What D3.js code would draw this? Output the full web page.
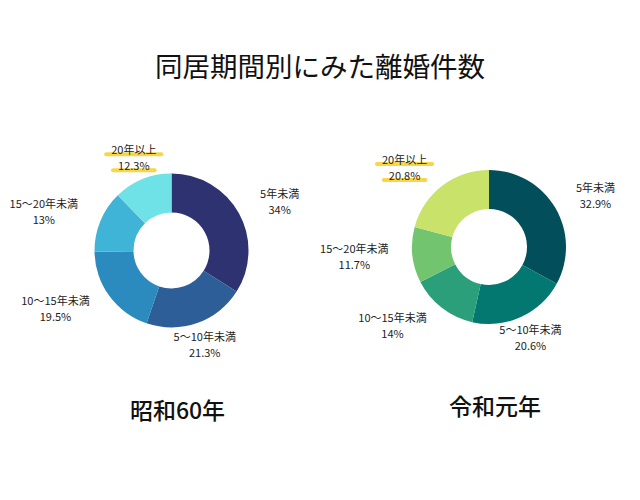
<!DOCTYPE html>
<html>
<head>
<meta charset="utf-8">
<script src="https://cdn.jsdelivr.net/npm/d3@7"></script>
<style>
  html, body { margin: 0; padding: 0; background: #fff; }
  svg { display: block; font-family: "Noto Sans CJK JP", "Noto Sans", sans-serif; }
</style>
</head>
<body>
<svg id="chart" width="640" height="500"></svg>
<script>
// ---- data ----
const titleText = "同居期間別にみた離婚件数";
const categories = ["5年未満", "5〜10年未満", "10〜15年未満", "15〜20年未満", "20年以上"];
const valuesShowa60 = [34, 21.3, 19.5, 13, 12.3];
const valuesReiwa1 = [32.9, 20.6, 14, 11.7, 20.8];
const colorsShowa60 = ["#2f3271", "#2d5e97", "#2b8bbf", "#3fb4d6", "#6ee2e6"];
const colorsReiwa1 = ["#024e5b", "#037871", "#2a9f79", "#73c46e", "#c9e269"];
const chartNames = ["昭和60年", "令和元年"];
const highlighted = ["20年以上"];

// ---- layout ----
const svg = d3.select("#chart");
const W = 640;
const outerR = 77, innerR = 38, labelR = 100;

svg.append("text")
  .attr("x", W / 2).attr("y", 77)
  .attr("text-anchor", "middle")
  .attr("font-size", 27.5).attr("font-weight", 400)
  .attr("fill", "#111")
  .text(titleText);

const charts = [
  { name: chartNames[0], values: valuesShowa60, colors: colorsShowa60, cx: 171.5, cy: 250.5 },
  { name: chartNames[1], values: valuesReiwa1, colors: colorsReiwa1, cx: 489, cy: 247 }
];

const pie = d3.pie().sort(null).value(d => d.value);
const arc = d3.arc().innerRadius(innerR).outerRadius(outerR);

charts.forEach(ch => {
  const data = categories.map((c, i) => ({ cat: c, value: ch.values[i] }));
  const color = d3.scaleOrdinal().domain(categories).range(ch.colors);
  const g = svg.append("g").attr("transform", `translate(${ch.cx},${ch.cy})`);
  const arcs = pie(data);

  g.selectAll("path.slice").data(arcs).join("path")
    .attr("class", "slice")
    .attr("d", arc)
    .attr("fill", d => color(d.data.cat));

  const hlLayer = g.append("g");
  const lblLayer = g.append("g");

  arcs.forEach(d => {
    const a = (d.startAngle + d.endAngle) / 2;
    const s = Math.sin(a), c = Math.cos(a);
    const ax = labelR * s, ay = -labelR * c;
    const lg = lblLayer.append("g");
    const t1 = lg.append("text").attr("text-anchor", "middle").attr("font-size", 11).attr("fill", "#222")
      .attr("x", 0).attr("y", -4).text(d.data.cat);
    const t2 = lg.append("text").attr("text-anchor", "middle").attr("font-size", 11).attr("fill", "#222")
      .attr("x", 0).attr("y", 12).text(d.data.value + "%");
    const w1 = t1.node().getComputedTextLength();
    const w2 = t2.node().getComputedTextLength();
    const w = Math.max(w1, w2);
    let bx = ax;
    if (s >= 0.5) bx = ax + w / 2 + 1;
    else if (s <= -0.5) bx = ax - w / 2 - 1;
    lg.attr("transform", `translate(${bx},${ay})`);

    if (highlighted.includes(d.data.cat)) {
      [[w1, -4 + 0.5], [w2, 12 + 0.5]].forEach(([tw, yy]) => {
        hlLayer.append("line")
          .attr("x1", bx - tw / 2 - 5).attr("x2", bx + tw / 2 + 5)
          .attr("y1", ay + yy).attr("y2", ay + yy)
          .attr("stroke", "#f7d64a").attr("stroke-width", 4)
          .attr("stroke-linecap", "round");
      });
    }
  });

  svg.append("text")
    .attr("x", ch.cx + 6).attr("y", ch.cy + 168)
    .attr("text-anchor", "middle")
    .attr("font-size", 23).attr("font-weight", 500)
    .attr("fill", "#111")
    .text(ch.name);
});
</script>
</body>
</html>
